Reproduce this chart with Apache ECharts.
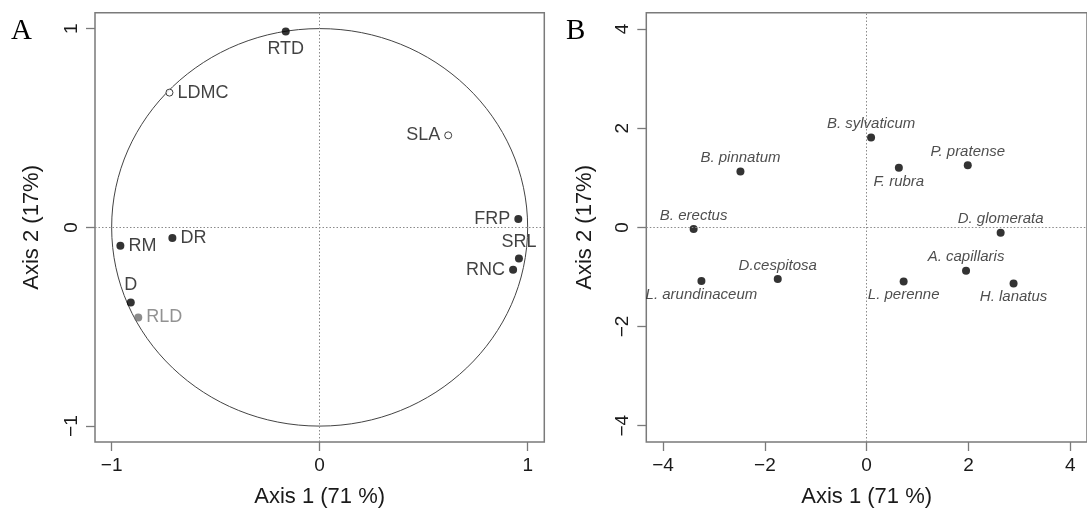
<!DOCTYPE html>
<html><head><meta charset="utf-8">
<script src="https://cdn.jsdelivr.net/npm/echarts@6/dist/echarts.min.js"></script>
<style>html,body{margin:0;padding:0;background:#fff}#c{width:1087px;height:513px}</style>
</head><body><div id="c"></div>
<script>
// ---- data ----
const traitNames = ['RTD','LDMC','SLA','FRP','RM','DR','SRL','RNC','D','RLD'];
const traitAxis1 = [-0.163,-0.722,0.618,0.955,-0.958,-0.708,0.958,0.930,-0.908,-0.872];
const traitAxis2 = [0.985,0.678,0.463,0.042,-0.092,-0.053,-0.157,-0.213,-0.378,-0.453];
const speciesNames = ['B. sylvaticum','B. pinnatum','F. rubra','P. pratense','B. erectus','D. glomerata','L. arundinaceum','D.cespitosa','L. perenne','A. capillaris','H. lanatus'];
const speciesAxis1 = [0.087,-2.48,0.633,1.987,-3.40,2.633,-3.247,-1.747,0.727,1.953,2.887];
const speciesAxis2 = [1.813,1.127,1.20,1.253,-0.033,-0.107,-1.08,-1.04,-1.093,-0.873,-1.133];
const circleRadius = [1];
const ticksA = [-1,0,1];
const ticksB = [-4,-2,0,2,4];
const xTitle = 'Axis 1 (71 %)';
const yTitle = 'Axis 2 (17%)';
const panelLetters = ['A','B'];

// ---- styles ----
const traitLabelPos = ['bottom','right','left','left','right','right','top','left','top','right'];
const traitMarker = ['filled','open','open','filled','filled','filled','filled','filled','filled','grey'];
const speciesLabelPos = ['top','top','bottom','top','top','top','bottom','top','bottom','top','bottom'];

const FONT = 'Liberation Sans';
const BOX = '#7a7a7a';
const fmt = v => (v < 0 ? '\u2212' + Math.abs(v) : String(v));

function axisCfg(isX, gi, min, max, ticks, name, gap, margin) {
  return {
    type: 'value', gridIndex: gi, min: min, max: max,
    splitLine: { show: false },
    axisLine: { show: false, onZero: false },
    axisTick: { show: true, inside: false, length: 9, customValues: ticks, lineStyle: { color: BOX, width: 1.3 } },
    axisLabel: { customValues: ticks, formatter: fmt, fontSize: 19, color: '#1a1a1a', fontFamily: FONT, margin: margin, rotate: isX ? 0 : 90 },
    name: name, nameLocation: 'middle', nameGap: gap,
    nameTextStyle: { fontSize: 22, color: '#1a1a1a', fontFamily: FONT }
  };
}

const zeroLines = {
  silent: true, symbol: 'none', animation: false,
  label: { show: false },
  lineStyle: { type: [1.5, 2], color: '#8a8a8a', width: 1 },
  data: [{ xAxis: 0 }, { yAxis: 0 }]
};

const traitData = traitNames.map((n, i) => {
  const m = traitMarker[i];
  return {
    name: n, value: [traitAxis1[i], traitAxis2[i]],
    symbolSize: m === 'open' ? 7 : 8,
    itemStyle: m === 'open' ? { color: '#fff', borderColor: '#111', borderWidth: 1 }
             : m === 'grey' ? { color: '#6e6e6e' } : { color: '#000' },
    label: { position: traitLabelPos[i], color: m === 'grey' ? '#777' : '#111' }
  };
});

const speciesData = speciesNames.map((n, i) => ({
  name: n, value: [speciesAxis1[i], speciesAxis2[i]],
  label: { position: speciesLabelPos[i] }
}));

const chart = echarts.init(document.getElementById('c'), null, { renderer: 'canvas' });
chart.setOption({
  animation: false,
  backgroundColor: '#fff',
  grid: [
    { left: 95, top: 12.7, width: 449.3, height: 432.6, show: true, borderColor: BOX, borderWidth: 1.5, backgroundColor: 'transparent' },
    { left: 646.3, top: 12.7, width: 450.9, height: 432.6, show: true, borderColor: BOX, borderWidth: 1.5, backgroundColor: 'transparent' }
  ],
  xAxis: [
    axisCfg(true, 0, -1.08, 1.08, ticksA, xTitle, 44, 14),
    axisCfg(true, 1, -4.33, 4.33, ticksB, xTitle, 44, 14)
  ],
  yAxis: [
    axisCfg(false, 0, -1.08, 1.08, ticksA, yTitle, 52, 14),
    axisCfg(false, 1, -4.33, 4.33, ticksB, yTitle, 50, 14)
  ],
  graphic: [
    { type: 'text', left: 11, top: 17, style: { text: panelLetters[0], font: '29px "Liberation Serif"', fill: '#000' } },
    { type: 'text', left: 566, top: 17, style: { text: panelLetters[1], font: '29px "Liberation Serif"', fill: '#000' } }
  ],
  series: [
    {
      type: 'custom', xAxisIndex: 0, yAxisIndex: 0, silent: true, z: 1,
      data: circleRadius.map(r => [0, 0, r]),
      renderItem: (params, api) => {
        const c = api.coord([api.value(0), api.value(1)]);
        const s = api.size([api.value(2), api.value(2)]);
        return { type: 'ellipse', shape: { cx: c[0], cy: c[1], rx: s[0], ry: s[1] },
                 style: { fill: 'none', stroke: '#444', lineWidth: 1 } };
      }
    },
    {
      type: 'scatter', xAxisIndex: 0, yAxisIndex: 0, symbol: 'circle', symbolSize: 8, z: 3,
      data: traitData,
      label: { show: true, formatter: '{b}', fontSize: 18, fontFamily: FONT, distance: 4 },
      markLine: zeroLines
    },
    {
      type: 'scatter', xAxisIndex: 1, yAxisIndex: 1, symbol: 'circle', symbolSize: 8, z: 3,
      itemStyle: { color: '#000' },
      data: speciesData,
      label: { show: true, formatter: '{b}', fontSize: 15, fontStyle: 'italic', fontFamily: FONT, color: '#222', distance: 2 },
      markLine: zeroLines
    }
  ]
});
</script>
</body></html>
